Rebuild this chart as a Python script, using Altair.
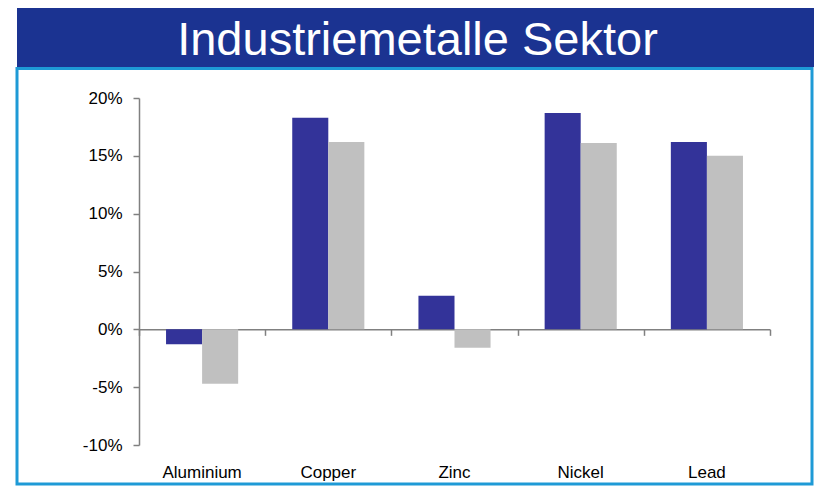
import altair as alt
import pandas as pd

categories = ["Aluminium", "Copper", "Zinc", "Nickel", "Lead"]
series_names = ["Serie 1", "Serie 2"]
series1 = [-1.3, 18.3, 2.9, 18.7, 16.2]
series2 = [-4.7, 16.2, -1.6, 16.1, 15.0]
y_ticks = [-10, -5, 0, 5, 10, 15, 20]
title_text = "Industriemetalle Sektor"

rows = []
for c, a, b in zip(categories, series1, series2):
    rows.append({"cat": c, "series": series_names[0], "value": a})
    rows.append({"cat": c, "series": series_names[1], "value": b})
df = pd.DataFrame(rows)

W, H = 631, 347
FONT = "Liberation Sans"

xscale = alt.Scale(domain=categories, paddingInner=0, paddingOuter=0)
yscale = alt.Scale(domain=[-10, 20], nice=False)

bars = alt.Chart(df).mark_bar().encode(
    x=alt.X("cat:N", sort=categories, scale=xscale,
            axis=alt.Axis(orient="bottom", domain=False, ticks=False, title=None,
                          labelAngle=0, labelPadding=19, labelFontSize=17,
                          labelFont=FONT, labelColor="#000000")),
    xOffset=alt.XOffset("series:N", sort=series_names,
                        scale=alt.Scale(paddingOuter=0.75, paddingInner=0)),
    y=alt.Y("value:Q", scale=yscale,
            axis=alt.Axis(values=y_ticks, labelExpr="datum.value + '%'", title=None,
                          grid=False, domainColor="#808080", domainWidth=1.5,
                          tickColor="#808080", tickWidth=1.5, tickSize=6,
                          labelPadding=11, labelFontSize=17, labelFont=FONT,
                          labelColor="#000000")),
    color=alt.Color("series:N", sort=series_names,
                    scale=alt.Scale(domain=series_names, range=["#333399", "#C0C0C0"]),
                    legend=None),
)

zero_axis = alt.Chart(pd.DataFrame({"cat": categories})).mark_rule(opacity=0).encode(
    x=alt.X("cat:N", sort=categories, scale=xscale,
            axis=alt.Axis(orient="bottom", offset=-H * 10 / 30, labels=False, title=None,
                          domain=True, domainColor="#808080", domainWidth=1.5,
                          ticks=True, tickBand="extent", tickColor="#808080",
                          tickWidth=1.5, tickSize=6)),
    y=alt.datum(0),
)

banner = alt.Chart(pd.DataFrame({"t": [title_text]})).mark_rect(
    color="#1B3391").encode(
    x=alt.value(-122), x2=alt.value(675), y=alt.value(-90), y2=alt.value(-31))

frame = alt.Chart(pd.DataFrame({"t": [title_text]})).mark_rect(
    fillOpacity=0, stroke="#1E9AD6", strokeWidth=3).encode(
    x=alt.value(-122), x2=alt.value(673), y=alt.value(-29.5), y2=alt.value(386))

title = alt.Chart(pd.DataFrame({"t": [title_text]})).mark_text(
    color="white", fontSize=47, font=FONT, align="center", baseline="alphabetic").encode(
    text="t:N", x=alt.value(278.5), y=alt.value(-43))

chart = alt.layer(banner, frame, title, bars, zero_axis).resolve_axis(
    x="independent").properties(
    width=W, height=H,
    autosize=alt.AutoSizeParams(type="none"),
    padding={"left": 131, "top": 90, "right": 44, "bottom": 42},
    background="white",
).configure_view(stroke=None)

chart.save("out.html", embed_options={"renderer": "svg", "actions": False})
